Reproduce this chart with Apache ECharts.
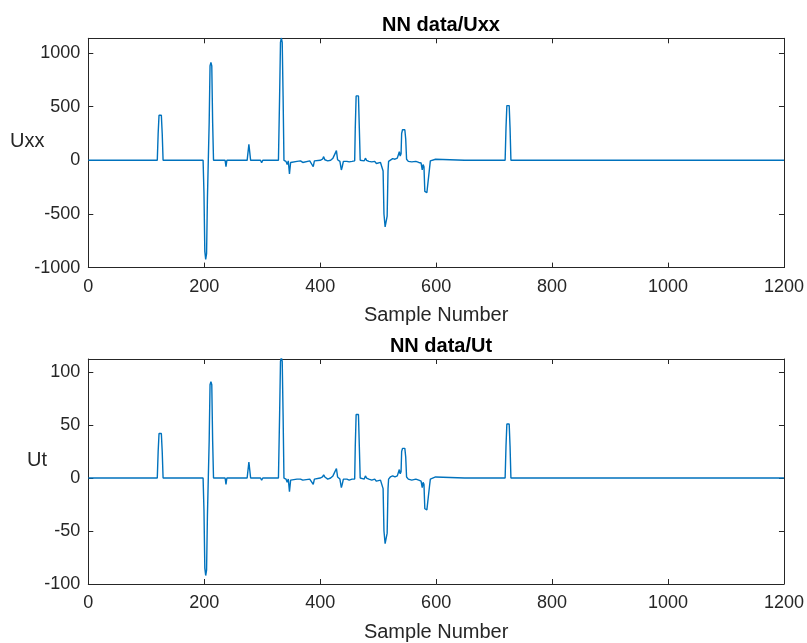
<!DOCTYPE html>
<html>
<head>
<meta charset="utf-8">
<script src="https://cdn.jsdelivr.net/npm/echarts@6/dist/echarts.min.js"></script>
<style>
  html, body { margin: 0; padding: 0; background: #ffffff; }
  #chart { width: 807px; height: 643px; }
</style>
</head>
<body>
<div id="chart"></div>
<script>
// Sample positions (x) of the traced key points
const samples = [
  0, 47, 49, 51, 119, 120.5, 122, 124, 126, 127.5, 129,
  198, 199.5, 201, 202.5, 204, 205.5, 207, 208.5, 210, 211.5, 213, 214.5, 216,
  236, 237.5, 239, 274, 276, 277, 278, 280, 297, 299, 301,
  328, 330, 331.5, 333, 334.5, 336, 337.5, 341, 343, 345, 347, 349, 352,
  360, 366, 370, 373, 382, 388, 390, 400, 404, 406, 408, 413, 418,
  422, 425, 428, 430, 434, 436.5, 438, 440, 446, 450, 455, 459.5,
  460.5, 462, 464, 466, 467.5, 469, 471, 476, 478, 480, 484, 489, 494, 497, 500, 504, 507,
  508.5, 510, 512, 514, 515.5, 517, 518, 521, 525, 529, 533, 535, 536.5, 538, 539.5,
  540.5, 542, 544, 546, 547.5, 549, 552, 558, 565, 570, 574, 576, 577.5, 579,
  580.5, 584, 587, 588.5, 590, 593, 599, 602, 649, 650, 651,
  719, 720.5, 722, 724, 726, 727.5, 729, 1200
];
// Uxx values
const uxxValues = [
  0, 0, 8, 0, 0, 250, 420, 431, 420, 250, 0,
  0, -300, -850, -923, -870, -350, 0, 350, 880, 913, 880, 350, 0,
  0, -60, 0, 0, 100, 149, 100, 0, 0, -22, 0,
  0, 600, 1100, 1140, 1100, 600, 0, -10, -40, -5, -128, -20, -5,
  -10, -5, -20, -5, -5, -60, -5, 0, 10, 34, 5, -5, 0,
  20, 20, 90, 5, -10, -90, -60, -10, -10, -15, -10, -5,
  300, 600, 615, 600, 300, 0, -5, -5, 20, 0, -10, -15, -10, -30, -20, -20, -5,
  -100, -500, -620, -625, -520, -100, -10, 5, 15, 10, 20, 30, 80, 40, 60,
  250, 285, 292, 285, 200, 10, -10, -15, -10, -20, -25, -90, -40, -60,
  -290, -302, -290, -80, -5, 0, 10, 0, 0, 5, 0,
  0, 300, 510, 525, 510, 300, 0, 0
];
// Ut values
const utValues = [
  0, 0, 1, 0, 0, 25, 42, 43, 42, 25, 0,
  0, -30, -85, -92, -87, -35, 0, 35, 88, 91, 88, 35, 0,
  0, -6, 0, 0, 10, 15, 10, 0, 0, -2, 0,
  0, 60, 110, 114, 110, 60, 0, -1, -4, -1, -13, -2, -1,
  -1, -1, -2, -1, -1, -6, -1, 0, 1, 3, 1, -1, 0,
  2, 2, 9, 1, -1, -9, -6, -1, -1, -2, -1, -1,
  30, 60, 61, 60, 30, 0, -1, -1, 2, 0, -1, -2, -1, -3, -2, -2, -1,
  -10, -50, -62, -62, -52, -10, -1, 1, 2, 1, 2, 3, 8, 4, 6,
  25, 28, 29, 28, 20, 1, -1, -2, -1, -2, -3, -9, -4, -6,
  -29, -30, -29, -8, -1, 0, 1, 0, 0, 1, 0,
  0, 30, 51, 52, 51, 30, 0, 0
];
const xTickLabels = [0, 200, 400, 600, 800, 1000, 1200];
const uxxTickLabels = [-1000, -500, 0, 500, 1000];
const utTickLabels = [-100, -50, 0, 50, 100];

const uxxData = samples.map((s, i) => [s, uxxValues[i]]);
const utData = samples.map((s, i) => [s, utValues[i]]);

const TXT = '#262626';
const FONT = '"Liberation Sans", Arial, Helvetica, sans-serif';
const LINE = '#0072BD';

function labelFmt(list) {
  return function (v) { return list.indexOf(Math.round(v * 1000) / 1000) >= 0 ? String(v) : ''; };
}

function xAxes(gridIndex) {
  const base = {
    type: 'value', gridIndex: gridIndex, min: 0, max: 1200, interval: 200,
    axisLine: { show: true, onZero: false, lineStyle: { color: TXT, width: 1 } },
    axisTick: { show: true, inside: true, length: 5, lineStyle: { color: TXT } },
    splitLine: { show: false }
  };
  return [
    Object.assign({}, base, {
      position: 'bottom',
      axisLabel: { show: true, margin: 10, color: TXT, fontSize: 18, fontFamily: FONT, formatter: labelFmt(xTickLabels) },
      name: 'Sample Number', nameLocation: 'middle', nameGap: 38,
      nameTextStyle: { color: TXT, fontSize: 20, fontFamily: FONT }
    }),
    Object.assign({}, base, { position: 'top', axisLabel: { show: false } })
  ];
}

function yAxes(gridIndex, min, max, ticks) {
  const base = {
    type: 'value', gridIndex: gridIndex, min: min, max: max, interval: ticks[1] - ticks[0],
    axisLine: { show: true, onZero: false, lineStyle: { color: TXT, width: 1 } },
    axisTick: { show: true, inside: true, length: 5, lineStyle: { color: TXT } },
    splitLine: { show: false }
  };
  return [
    Object.assign({}, base, {
      position: 'left',
      axisLabel: { show: true, margin: 8, color: TXT, fontSize: 18, fontFamily: FONT, formatter: labelFmt(ticks), showMaxLabel: false }
    }),
    Object.assign({}, base, { position: 'right', axisLabel: { show: false } })
  ];
}

const chart = echarts.init(document.getElementById('chart'), null, { renderer: 'canvas' });
chart.setOption({
  animation: false,
  backgroundColor: '#ffffff',
  title: [
    { text: 'NN data/Uxx', left: 436, top: 10, textAlign: 'center',
      textStyle: { color: '#000', fontSize: 20, fontWeight: 'bold', fontFamily: FONT } },
    { text: 'NN data/Ut', left: 436, top: 331, textAlign: 'center',
      textStyle: { color: '#000', fontSize: 20, fontWeight: 'bold', fontFamily: FONT } }
  ],
  grid: [
    { left: 88.3, top: 38.3, width: 696, height: 229.3 },
    { left: 88.3, top: 359, width: 696, height: 230.6 }
  ],
  xAxis: xAxes(0).concat(xAxes(1)),
  yAxis: yAxes(0, -1000, 1137, uxxTickLabels).concat(yAxes(1, -100, 112.3, utTickLabels)),
  graphic: [
    { type: 'text', left: 10, top: 131, style: { text: 'Uxx', fill: TXT, fontSize: 20, fontFamily: FONT } },
    { type: 'text', left: 27, top: 450, style: { text: 'Ut', fill: TXT, fontSize: 20, fontFamily: FONT } }
  ],
  series: [
    { type: 'line', xAxisIndex: 0, yAxisIndex: 0, data: uxxData, showSymbol: false, clip: true,
      lineStyle: { color: LINE, width: 1.4 }, itemStyle: { color: LINE } },
    { type: 'line', xAxisIndex: 2, yAxisIndex: 2, data: utData, showSymbol: false, clip: true,
      lineStyle: { color: LINE, width: 1.4 }, itemStyle: { color: LINE } }
  ]
});
</script>
</body>
</html>
